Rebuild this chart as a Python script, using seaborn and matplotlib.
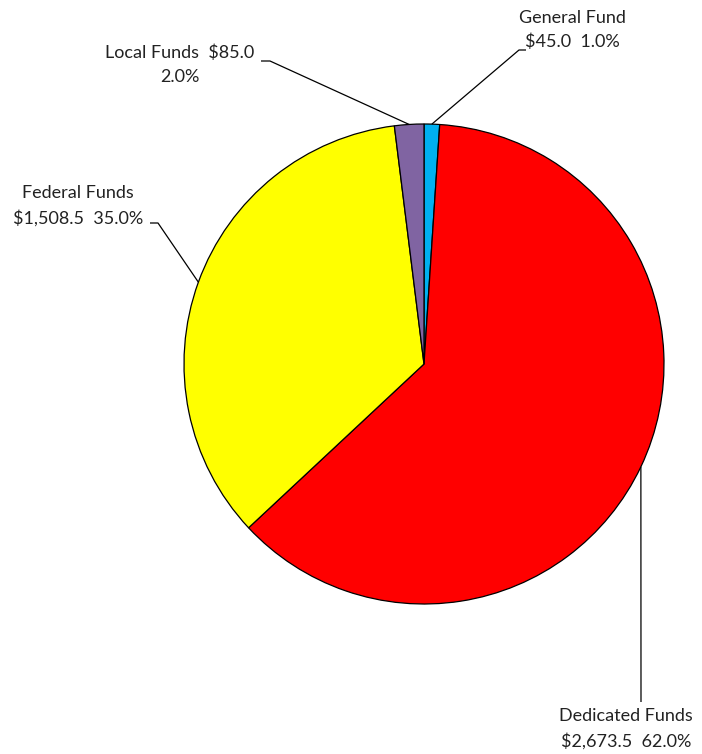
import numpy as np
import matplotlib
matplotlib.use("Agg")
import matplotlib.pyplot as plt
import seaborn as sns

# Données du graphique (montants en millions)
categories = ["General Fund", "Dedicated Funds", "Federal Funds", "Local Funds"]
amounts = [45.0, 2673.5, 1508.5, 85.0]
percents = ["1.0%", "62.0%", "35.0%", "2.0%"]
colors = ["#00B0F0", "#FF0000", "#FFFF00", "#8064A2"]

sns.set_theme(style="white")
plt.rcParams["font.family"] = ["Lato", "DejaVu Sans"]

W, H = 702, 754
CX, CY, R = 424, 364, 240


def px(x, y):
    # pixel (depuis le haut-gauche) -> coordonnées des données
    return (x - CX) / R, (CY - y) / R


fig = plt.figure(figsize=(W / 100, H / 100), dpi=100)
ax = fig.add_axes([0, 0, 1, 1])
wedges, _ = ax.pie(
    amounts,
    colors=colors,
    startangle=90,
    counterclock=False,
    radius=1,
    wedgeprops=dict(edgecolor="black", linewidth=0.9),
)
ax.set_xlim(-CX / R, (W - CX) / R)
ax.set_ylim(-(H - CY) / R, CY / R)
ax.set_aspect("equal")
ax.axis("off")

# Étiquettes : (centre du texte en px, points du trait en px)
labels = [
    "General Fund\n${:,.1f}  {}".format(amounts[0], percents[0]),
    "Dedicated Funds\n${:,.1f}  {}".format(amounts[1], percents[1]),
    "Federal Funds\n${:,.1f}  {}".format(amounts[2], percents[2]),
    "Local Funds  ${:,.1f}\n{}".format(amounts[3], percents[3]),
]
text_pos = [(572, 30), (626, 729), (78, 206), (180, 65)]
elbows = [[(526, 50), (519, 50)], [(641, 702)], [(150, 223), (158, 223)], [(261, 61), (270, 61)]]

for w, lab, tp, elb in zip(wedges, labels, text_pos, elbows):
    mid = np.deg2rad((w.theta1 + w.theta2) / 2)
    edge = (np.cos(mid), np.sin(mid))
    pts = [px(*p) for p in elb] + [edge]
    xs, ys = zip(*pts)
    ax.plot(xs, ys, color="black", linewidth=0.9, solid_capstyle="butt")
    tx, ty = px(*tp)
    ax.text(tx, ty, lab, ha="center", va="center", fontsize=13,
            color="#222222", linespacing=1.6)

fig.savefig("out.png", dpi=100, facecolor="white")
